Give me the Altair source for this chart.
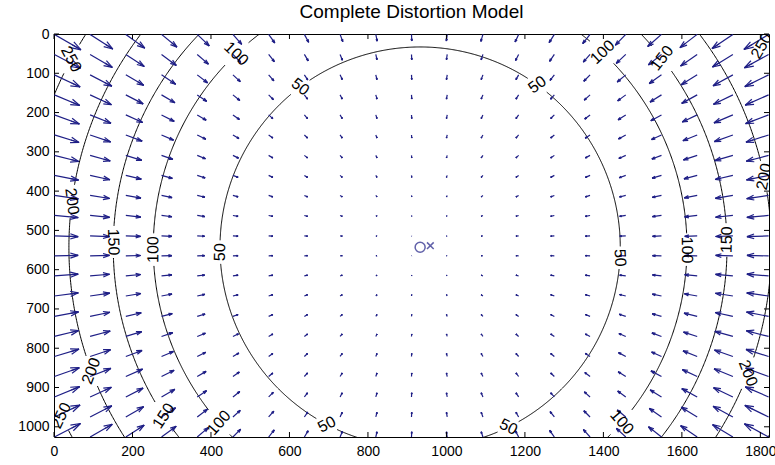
import numpy as np
import pandas as pd
import altair as alt

# ---------------- data ----------------
title_text = "Complete Distortion Model"
x_domain = [0, 1822]
y_domain = [0, 1026]
x_ticks = [0, 200, 400, 600, 800, 1000, 1200, 1400, 1600, 1800]
y_ticks = [0, 100, 200, 300, 400, 500, 600, 700, 800, 900, 1000]

principal_point = [933, 543]   # 'o' marker, centre of the contours
image_center = [959, 539]      # 'x' marker

contour_levels = [50, 100, 150, 200, 250]
contour_radii = [510, 680, 782, 895, 1010]   # radius of each contour (pixels of image)

grid_x = [1, 92, 183, 274, 365, 456, 547, 638, 729, 820, 911, 1002, 1093,
          1184, 1275, 1366, 1457, 1548, 1639, 1730, 1821]
grid_y = [1, 52, 104, 155, 206, 257, 309, 360, 411, 462, 514, 565, 616,
          667, 719, 770, 821, 872, 924, 975, 1026]

# contour labels: level and polar angle (deg, screen coords) where they sit
label_levels = [250, 100, 50, 50, 100, 150, 250, 200, 150, 100, 50,
                50, 100, 150, 200, 200, 250, 150, 100, 50, 50, 100, 200]
label_phi = [-151.7, -133.6, -126.8, -54.2, -46.9, -38.0, -30.5, -11.6, -1.4, 0.6, 3.0,
             178.6, 179.5, 181.0, 187.5, 159.4, 154.9, 146.7, 138.9, 117.8, 63.8, 40.9, 21.0]

arrow_scale = 0.28

# ---------------- derived tables ----------------
cx, cy = principal_point
pr = np.array([0] + contour_radii, float)
pdv = np.array([0] + contour_levels, float)
slope_out = (pdv[-1] - pdv[-2]) / (pr[-1] - pr[-2])

seg_rows = []
for gy in grid_y:
    for gx in grid_x:
        ddx, ddy = cx - gx, cy - gy
        r = float(np.hypot(ddx, ddy))
        if r < 1e-6:
            continue
        m = np.interp(r, pr, pdv) if r <= pr[-1] else pdv[-1] + (r - pr[-1]) * slope_out
        u = arrow_scale * m * ddx / r
        v = arrow_scale * m * ddy / r
        tx, ty = gx + u, gy + v
        a, b = 0.33, 0.33
        seg_rows.append((gx, gy, tx, ty))
        seg_rows.append((tx - a * (u + b * v), ty - a * (v - b * u), tx, ty))
        seg_rows.append((tx - a * (u - b * v), ty - a * (v + b * u), tx, ty))
        seg_rows.append((tx - a * u, ty - a * v, tx, ty))
arrows = pd.DataFrame(seg_rows, columns=["x", "y", "x2", "y2"])

pts = []
thetas = np.linspace(-180, 180, 1441)
for lev, R in zip(contour_levels, contour_radii):
    gaps = [p for l, p in zip(label_levels, label_phi) if l == lev]
    halfw = np.degrees((len(str(lev)) * 4.6 + 2) / 0.3925 / R)
    seg = 0
    prev = False
    for i, th in enumerate(thetas):
        keep = all(abs((th - g + 180) % 360 - 180) > halfw for g in gaps)
        if keep:
            if not prev:
                seg += 1
            t = np.radians(th)
            pts.append({"x": cx + R * np.cos(t), "y": cy + R * np.sin(t),
                        "k": i, "seg": f"{lev}-{seg}"})
        prev = keep
contours = pd.DataFrame(pts)

lab_rows = []
for lev, phi in zip(label_levels, label_phi):
    R = contour_radii[contour_levels.index(lev)]
    t = np.radians(phi)
    tang = phi + 90.0
    tang = ((tang + 90.0) % 180.0) - 90.0
    ang = (-tang) % 360.0
    lab_rows.append({"x": cx + R * np.cos(t), "y": cy + R * np.sin(t),
                     "ang": ang, "txt": str(lev)})
labels = pd.DataFrame(lab_rows)

W, H = 715, 403
FONT = "Liberation Sans"
xs = alt.Scale(domain=x_domain, nice=False, zero=False)
ys = alt.Scale(domain=y_domain, nice=False, zero=False, reverse=True)
xaxis = alt.Axis(values=x_ticks, format="d", ticks=False, tickSize=0, domain=False, grid=False,
                 labelPadding=7, labelFontSize=14, labelFont=FONT, labelColor="black",
                 labelOverlap=False, labelFlush=False, title=None)
yaxis = alt.Axis(values=y_ticks, format="d", ticks=False, tickSize=0, domain=False, grid=False,
                 labelPadding=5, labelFontSize=14, labelFont=FONT, labelColor="black",
                 labelOverlap=False, labelFlush=False, title=None)


def X(f):
    return alt.X(f, type="quantitative", scale=xs, axis=xaxis, title=None)


def Y(f):
    return alt.Y(f, type="quantitative", scale=ys, axis=yaxis, title=None)


arrow_color = "#1f1f86"

contour_layer = alt.Chart(contours).mark_line(color="black", strokeWidth=1, clip=True).encode(
    x=X("x"), y=Y("y"), detail="seg:N", order="k:Q")

arrow_layer = alt.Chart(arrows).mark_rule(color=arrow_color, strokeWidth=1.2, clip=True).encode(
    x=X("x"), y=Y("y"), x2="x2", y2="y2")

label_layer = alt.Chart(labels).mark_text(font=FONT, fontSize=16, color="black",
                                          align="center", baseline="middle", clip=True).encode(
    x=X("x"), y=Y("y"), angle=alt.Angle("ang:Q", scale=None), text="txt:N")

pp = pd.DataFrame({"x": [principal_point[0]], "y": [principal_point[1]]})
ic = pd.DataFrame({"x": [image_center[0]], "y": [image_center[1]]})
o_layer = alt.Chart(pp).mark_point(shape="circle", filled=False, size=100,
                                   strokeWidth=1.5, color=arrow_color).encode(x=X("x"), y=Y("y"))
x_layer = alt.Chart(ic).mark_point(shape="M-1,-1L1,1M-1,1L1,-1", filled=False, size=45,
                                   strokeWidth=1.5, color=arrow_color).encode(x=X("x"), y=Y("y"))

xt = pd.DataFrame({"v": x_ticks})
yt = pd.DataFrame({"v": y_ticks})
tick_top = alt.Chart(xt).mark_rule(color="black", strokeWidth=1).encode(
    x=X("v"), y=alt.value(0), y2=alt.value(5))
tick_bot = alt.Chart(xt).mark_rule(color="black", strokeWidth=1).encode(
    x=X("v"), y=alt.value(H - 5), y2=alt.value(H))
tick_left = alt.Chart(yt).mark_rule(color="black", strokeWidth=1).encode(
    y=Y("v"), x=alt.value(0), x2=alt.value(5))
tick_right = alt.Chart(yt).mark_rule(color="black", strokeWidth=1).encode(
    y=Y("v"), x=alt.value(W - 5), x2=alt.value(W))

chart = alt.layer(
    contour_layer, arrow_layer, label_layer, o_layer, x_layer,
    tick_top, tick_bot, tick_left, tick_right
).properties(
    width=W, height=H,
    title=alt.TitleParams(title_text, font=FONT, fontSize=19, fontWeight="normal",
                          color="black", offset=5, anchor="middle"),
    padding={"left": 54, "top": 34, "right": 6, "bottom": 28},
    autosize=alt.AutoSizeParams(type="none"),
    background="white",
).configure_view(stroke="black", strokeWidth=1)

chart.save("out.html", embed_options={"renderer": "svg", "actions": False})
